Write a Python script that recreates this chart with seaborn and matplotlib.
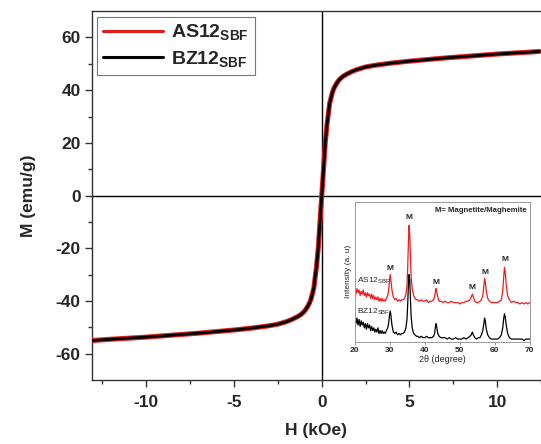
import matplotlib
matplotlib.use("Agg")
import matplotlib.pyplot as plt
import seaborn as sns
import pandas as pd

# ---------------- main hysteresis data ----------------
H_AS = [-13.1, -12, -11, -10, -9, -8, -7, -6, -5, -4, -3, -2.5, -2, -1.7, -1.4, -1.2, -1.0, -0.9,
        -0.8, -0.7, -0.6, -0.45, -0.3, -0.2, -0.1, 0, 0.1, 0.2, 0.3, 0.45, 0.6, 0.7, 0.8, 0.9,
        1.0, 1.2, 1.4, 1.7, 2.0, 2.5, 3, 4, 5, 6, 7, 8, 9, 10, 11, 12, 12.4]
M_AS = [-55.0, -54.5, -54.1, -53.7, -53.2, -52.7, -52.2, -51.6, -51.0, -50.3, -49.4, -48.8, -47.8,
        -47.0, -46.0, -45.2, -44.0, -43.1, -42.0, -40.8, -39.0, -35.0, -27.0, -20.0, -10.0, 0.0,
        10.0, 20.0, 27.0, 35.0, 39.0, 40.8, 42.0, 43.1, 44.0, 45.2, 46.0, 47.0, 47.8, 48.8, 49.4,
        50.3, 51.0, 51.6, 52.2, 52.7, 53.2, 53.7, 54.1, 54.5, 54.7]
H_BZ = list(H_AS)
M_BZ = list(M_AS)

# ---------------- inset XRD data ----------------
tt_AS = [20.0, 20.3, 20.6, 20.9, 21.2, 21.5, 21.8, 22.1, 22.4, 22.7, 23.0, 23.3, 23.6, 23.9, 24.2,
         24.5, 24.8, 25.1, 25.4, 25.7, 26.0, 26.3, 26.6, 26.9, 27.2, 27.5, 27.8, 28.1, 28.4, 28.7,
         29.0, 29.4, 29.7, 29.9, 30.1, 30.3, 30.6, 31.0, 31.4, 31.8, 32.2, 32.6, 33.0, 33.4, 33.8,
         34.2, 34.6, 34.9, 35.1, 35.3, 35.5, 35.7, 35.9, 36.1, 36.4, 36.8, 37.2, 37.6, 38.0, 38.5,
         39.0, 39.5, 40.0, 40.5, 41.0, 41.5, 42.0, 42.5, 42.8, 43.0, 43.2, 43.4, 43.7, 44.1, 44.6,
         45.2, 45.8, 46.4, 47.0, 47.6, 48.2, 48.8, 49.4, 50.0, 50.6, 51.2, 51.8, 52.4, 52.9, 53.3,
         53.6, 53.9, 54.3, 54.8, 55.3, 55.8, 56.2, 56.6, 56.9, 57.1, 57.3, 57.6, 58.0, 58.5, 59.0,
         59.6, 60.2, 60.8, 61.4, 61.9, 62.3, 62.6, 62.8, 63.0, 63.3, 63.7, 64.2, 64.8, 65.4, 66.0,
         66.6, 67.2, 67.8, 68.4, 69.0, 69.5, 70.0]
I_AS = [37, 34, 38, 35, 37, 33, 36, 34, 37, 33, 35, 32, 35, 33, 34,
        31, 34, 31, 33, 30, 32, 30, 32, 29, 31, 29, 31, 29, 30, 29,
        31, 33, 38, 44, 48, 44, 37, 32, 30, 31, 29, 30, 29, 30, 30,
        31, 34, 40, 52, 70, 83, 76, 60, 46, 38, 33, 31, 30, 30, 29,
        30, 29, 29, 30, 28, 29, 29, 30, 32, 35, 38, 36, 32, 29, 29,
        28, 29, 28, 28, 29, 28, 28, 28, 27, 28, 28, 29, 29, 30, 32,
        34, 32, 29, 28, 28, 29, 30, 33, 40, 45, 43, 36, 31, 29, 28,
        28, 28, 28, 29, 30, 36, 47, 53, 50, 41, 33, 30, 28, 29, 28,
        28, 27, 28, 27, 28, 27, 28]

tt_BZ = list(tt_AS)
I_BZ = [15, 13, 17, 12, 16, 11, 15, 12, 14, 10, 13, 9, 13, 10, 12,
        8, 11, 8, 10, 7, 9, 7, 10, 6, 8, 6, 8, 6, 7, 6,
        8, 10, 14, 19, 22, 19, 12, 7, 6, 7, 5, 6, 5, 6, 6,
        7, 10, 16, 26, 40, 48, 44, 30, 18, 10, 6, 5, 4, 4, 3,
        4, 3, 3, 4, 3, 3, 3, 4, 6, 10, 13, 11, 6, 4, 3,
        3, 3, 2, 3, 2, 2, 3, 2, 2, 2, 3, 2, 3, 4, 5,
        7, 5, 3, 2, 3, 3, 5, 8, 13, 17, 15, 9, 5, 3, 2,
        2, 2, 2, 3, 5, 10, 17, 20, 18, 12, 6, 3, 2, 2, 2,
        2, 2, 2, 1, 2, 2, 2]

peak_pos = [30.1, 35.5, 43.2, 53.6, 57.1, 62.8]
peak_lbl_y = [50, 86, 40, 36, 47, 56]

# ---------------- styling ----------------
sns.set_style("ticks")
plt.rcParams['font.family'] = ['Liberation Sans', 'DejaVu Sans']
plt.rcParams['axes.unicode_minus'] = False
plt.rcParams['mathtext.fontset'] = 'custom'
plt.rcParams['mathtext.rm'] = 'Liberation Sans'
plt.rcParams['mathtext.bf'] = 'Liberation Sans:bold'
plt.rcParams['mathtext.it'] = 'Liberation Sans:italic'

fig = plt.figure(figsize=(5.41, 4.44), dpi=100)
ax = fig.add_axes([0.170, 0.144, 0.830, 0.831])

df_as = pd.DataFrame({"H": H_AS, "M": M_AS})
df_bz = pd.DataFrame({"H": H_BZ, "M": M_BZ})

ax.axhline(0, color="black", lw=1.0, zorder=1)
ax.axvline(0, color="black", lw=1.0, zorder=1)
sns.lineplot(data=df_as, x="H", y="M", ax=ax, color="#e0191b", lw=3.6, sort=False,
             label=r"AS12$_{\mathbf{SBF}}$", zorder=3)
sns.lineplot(data=df_bz, x="H", y="M", ax=ax, color="black", lw=2.0, sort=False,
             label=r"BZ12$_{\mathbf{SBF}}$", zorder=4)

ax.set_xlim(-13.1, 12.4)
ax.set_ylim(-70, 70)
ax.set_xticks([-10, -5, 0, 5, 10])
ax.set_xticks([-12.5, -7.5, -2.5, 2.5, 7.5, 12.5], minor=True)
ax.set_yticks([-60, -40, -20, 0, 20, 40, 60])
ax.set_yticks([-50, -30, -10, 10, 30, 50], minor=True)
ax.tick_params(axis="both", which="major", direction="out", length=5, width=1,
               labelsize=12.5, color="#333333")
ax.tick_params(axis="both", which="minor", direction="out", length=3, width=1, color="#333333")
ax.tick_params(axis="x", pad=6)
ax.tick_params(axis="y", pad=3)
for lab in ax.get_xticklabels() + ax.get_yticklabels():
    lab.set_fontweight("bold")
ax.set_xlabel("H (kOe)", fontsize=12.5, fontweight="bold", labelpad=9)
ax.set_ylabel("M (emu/g)", fontsize=12.5, fontweight="bold", labelpad=14)
ax.spines["right"].set_visible(False)
for s in ["left", "bottom", "top"]:
    ax.spines[s].set_color("#333333")
    ax.spines[s].set_linewidth(1.0)

leg = ax.legend(loc="upper left", bbox_to_anchor=(0.012, 0.985),
                prop={"weight": "bold", "size": 14}, handlelength=3.1, handletextpad=0.4,
                borderpad=0.3, labelspacing=0.35, fancybox=False, framealpha=1,
                edgecolor="#777777", borderaxespad=0)
leg.get_frame().set_linewidth(0.8)
for h in leg.get_lines():
    h.set_linewidth(2.2)

# ---------------- inset ----------------
ins = fig.add_axes([0.656, 0.230, 0.323, 0.316])
ins.set_facecolor("white")
df_xas = pd.DataFrame({"t": tt_AS, "I": I_AS})
df_xbz = pd.DataFrame({"t": tt_BZ, "I": I_BZ})
sns.lineplot(data=df_xas, x="t", y="I", ax=ins, color="#ee1c1c", lw=0.9, sort=False)
sns.lineplot(data=df_xbz, x="t", y="I", ax=ins, color="black", lw=0.9, sort=False)
ins.set_xlim(20, 70)
ins.set_ylim(0, 100)
ins.set_xticks([20, 30, 40, 50, 60, 70])
ins.set_yticks([])
ins.tick_params(axis="x", labelsize=6, length=2, width=0.6, pad=1.5, color="#888888")
for lab in ins.get_xticklabels():
    lab.set_fontweight("bold")
ins.set_xlabel("2θ (degree)", fontsize=6.5, labelpad=1)
ins.set_ylabel("Intensity (a. u)", fontsize=6, labelpad=2)
for s in ins.spines.values():
    s.set_color("#999999")
    s.set_linewidth(0.7)
for xp, yp in zip(peak_pos, peak_lbl_y):
    ins.text(xp, yp, "M", fontsize=6, fontweight="bold", ha="center", va="bottom")
ins.text(69, 96, "M= Magnetite/Maghemite", fontsize=5.6, fontweight="bold", ha="right", va="top")
ins.text(20.6, 40, r"AS12$_{\mathrm{SBF}}$", fontsize=6, ha="left", va="bottom")
ins.text(20.6, 18, r"BZ12$_{\mathrm{SBF}}$", fontsize=6, ha="left", va="bottom")

fig.savefig("out.png", dpi=100)
